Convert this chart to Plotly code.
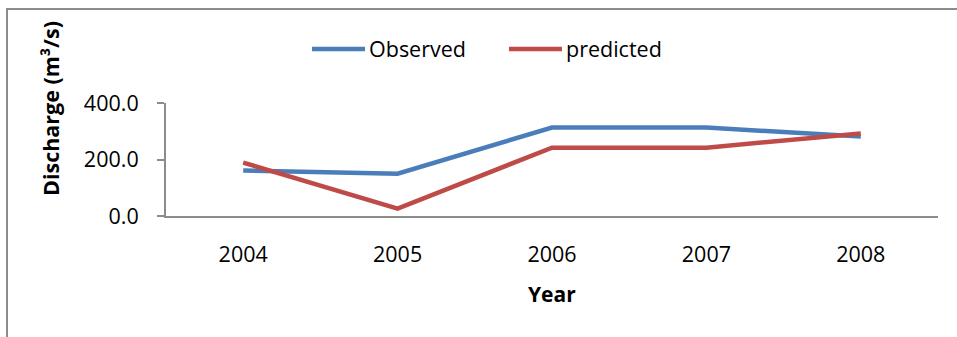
import plotly.graph_objects as go

years = ["2004", "2005", "2006", "2007", "2008"]
observed = [161, 150, 313, 313, 281]
predicted = [189, 26, 242, 242, 292]
y_ticks = [0, 200, 400]
y_tick_text = ["0.0", "200.0", "400.0"]

BLUE = "#4A7EBB"
RED = "#BE4B48"
FONT = "Open Sans"

# plot area in pixels (used to convert to paper coordinates)
W, H = 957, 337
L, R, T, B = 166, 19, 103, 121
pw, ph = W - L - R, H - T - B


def px(x):
    return (x - L) / pw


def py(y):
    return (H - B - y) / ph


fig = go.Figure()
fig.add_trace(go.Scatter(x=years, y=observed, mode="lines", name="Observed",
                         line=dict(color=BLUE, width=4.5), showlegend=False))
fig.add_trace(go.Scatter(x=years, y=predicted, mode="lines", name="predicted",
                         line=dict(color=RED, width=4.5), showlegend=False))

shapes = [
    # outer chart frame
    dict(type="rect", xref="paper", yref="paper", x0=px(7), x1=px(1000),
         y0=py(400), y1=py(9), line=dict(color="#8c8c8c", width=2), layer="below"),
    # legend swatches
    dict(type="line", xref="paper", yref="paper", x0=px(312), x1=px(365),
         y0=py(49), y1=py(49), line=dict(color=BLUE, width=4.5)),
    dict(type="line", xref="paper", yref="paper", x0=px(509), x1=px(562),
         y0=py(49), y1=py(49), line=dict(color=RED, width=4.5)),
]

annotations = [
    dict(text="Observed", xref="paper", yref="paper", x=px(367), y=py(49),
         xanchor="left", yanchor="middle", showarrow=False,
         font=dict(family=FONT, size=21.5, color="black")),
    dict(text="predicted", xref="paper", yref="paper", x=px(564), y=py(49),
         xanchor="left", yanchor="middle", showarrow=False,
         font=dict(family=FONT, size=21.5, color="black")),
    dict(text="<b>Discharge (m³/s)</b>", xref="paper", yref="paper",
         x=px(50), y=py(109), textangle=-90, xanchor="center", yanchor="middle",
         showarrow=False, font=dict(family=FONT, size=21.5, color="black")),
    dict(text="<b>Year</b>", xref="paper", yref="paper",
         x=px(552), y=py(294), xanchor="center", yanchor="middle",
         showarrow=False, font=dict(family=FONT, size=21, color="black")),
]

fig.update_layout(
    width=W, height=H,
    margin=dict(l=L, r=R, t=T, b=B, pad=0),
    paper_bgcolor="white", plot_bgcolor="white",
    shapes=shapes, annotations=annotations,
    font=dict(family=FONT, size=21, color="black"),
    xaxis=dict(type="category", range=[-0.5, 4.5], showgrid=False,
               showline=True, linecolor="#8c8c8c", linewidth=2,
               ticks="", ticklabelstandoff=18, zeroline=False,
               tickfont=dict(family=FONT, size=21.5)),
    yaxis=dict(range=[0, 400], tickvals=y_ticks, ticktext=y_tick_text,
               showgrid=False, showline=True, linecolor="#8c8c8c", linewidth=2,
               ticks="outside", ticklen=7, tickcolor="#8c8c8c", tickwidth=2,
               ticklabelstandoff=14, zeroline=False,
               tickfont=dict(family=FONT, size=21.5)),
)

fig.write_html("out.html")
